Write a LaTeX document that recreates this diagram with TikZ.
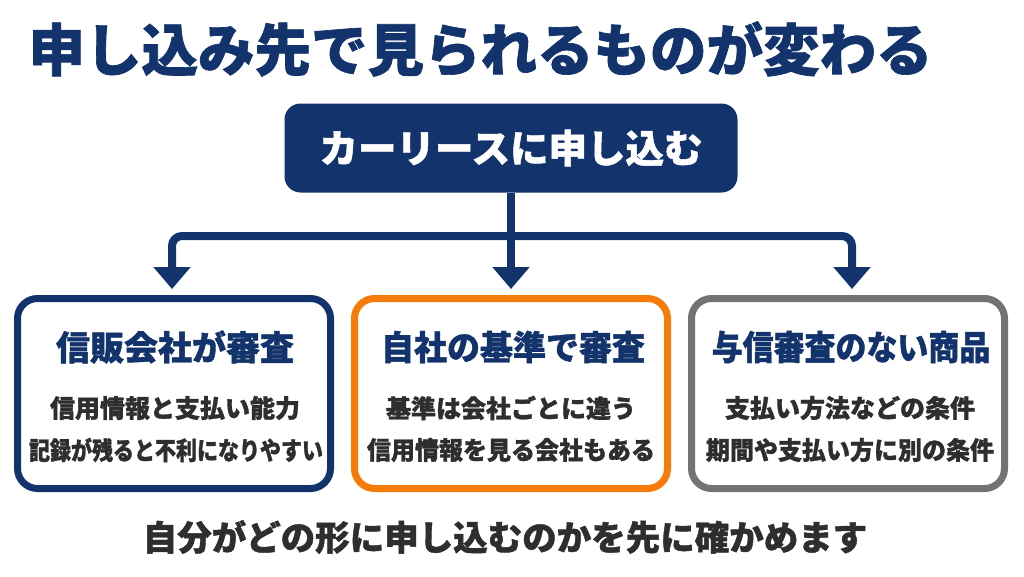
\documentclass[tikz,border=0pt]{standalone}
\usepackage{fontspec}
\usepackage{graphicx}
\setmainfont{Noto Sans CJK JP}
\newfontfamily\heavy{Noto Sans CJK JP}[BoldFeatures={FakeBold=1.2}]
\usetikzlibrary{arrows.meta}

\definecolor{navy}{HTML}{12336B}
\definecolor{accent}{HTML}{F57C0A}
\definecolor{steel}{HTML}{737373}
\definecolor{ink}{HTML}{2E2E2E}

\tikzset{
  card/.style={draw, line width=7pt, rounded corners=20pt, fill=white,
    minimum width=313pt, minimum height=190pt},
  heading/.style={text=navy, font=\fontsize{34}{38}\selectfont\heavy\bfseries},
  body/.style={text=ink, font=\fontsize{25}{28}\selectfont\heavy\bfseries},
  link/.style={draw=navy, line width=8pt, rounded corners=10pt,
    -{Triangle[width=36pt,length=22pt]}},
}

\begin{document}
\begin{tikzpicture}[x=1pt,y=-1pt]
    \useasboundingbox[fill=white] (0,0) rectangle (1024,576);

    % Titolo
    \node[anchor=west, text=navy, font=\fontsize{56.5}{62}\selectfont\heavy\bfseries] (title) at (25,49) {申し込み先で見られるものが変わる};

    % Riquadro in alto
    \node[fill=navy, rounded corners=16pt, minimum width=453pt, minimum height=89pt,
      text=white, font=\fontsize{38.5}{44}\selectfont\heavy\bfseries] (top) at (511,148) {カーリースに申し込む};

    % Riquadri
    \node[card, draw=navy] (lbox) at (174,393.5) {};
    \node[card, draw=accent] (mbox) at (511,393.5) {};
    \node[card, draw=steel] (rbox) at (848,393.5) {};

    % Testi nei riquadri
    \node[heading] (lhead) at (175,347) {信販会社が審査};
    \node[body] (lline1) at (175,408) {信用情報と支払い能力};
    \node[body] (lline2) at (176,450) {\scalebox{0.84}[1]{記録が残ると不利になりやすい}};

    \node[heading] (mhead) at (513,347) {\scalebox{0.97}[1]{自社の基準で審査}};
    \node[body] (mline1) at (511,408) {基準は会社ごとに違う};
    \node[body] (mline2) at (511,450) {\scalebox{0.96}[1]{信用情報を見る会社もある}};

    \node[heading] (rhead) at (851,347) {\scalebox{0.91}[1]{与信審査のない商品}};
    \node[body] (rline1) at (850,408) {支払い方法などの条件};
    \node[body] (rline2) at (850,450) {\scalebox{0.96}[1]{期間や支払い方に別の条件}};

    % Frecce
    \coordinate (split) at (511,236);
    \draw[link] (top.south) -- ([yshift=6pt]mbox.north);
    \draw[link] (split) -| ([xshift=-2pt,yshift=6pt]lbox.north);
    \draw[link] (split) -| ([xshift=4pt,yshift=6pt]rbox.north);

    % Nota in basso
    \node[text=ink, font=\fontsize{34.5}{40}\selectfont\heavy\bfseries] (note) at (505,537) {自分がどの形に申し込むのかを先に確かめます};
\end{tikzpicture}
\end{document}
